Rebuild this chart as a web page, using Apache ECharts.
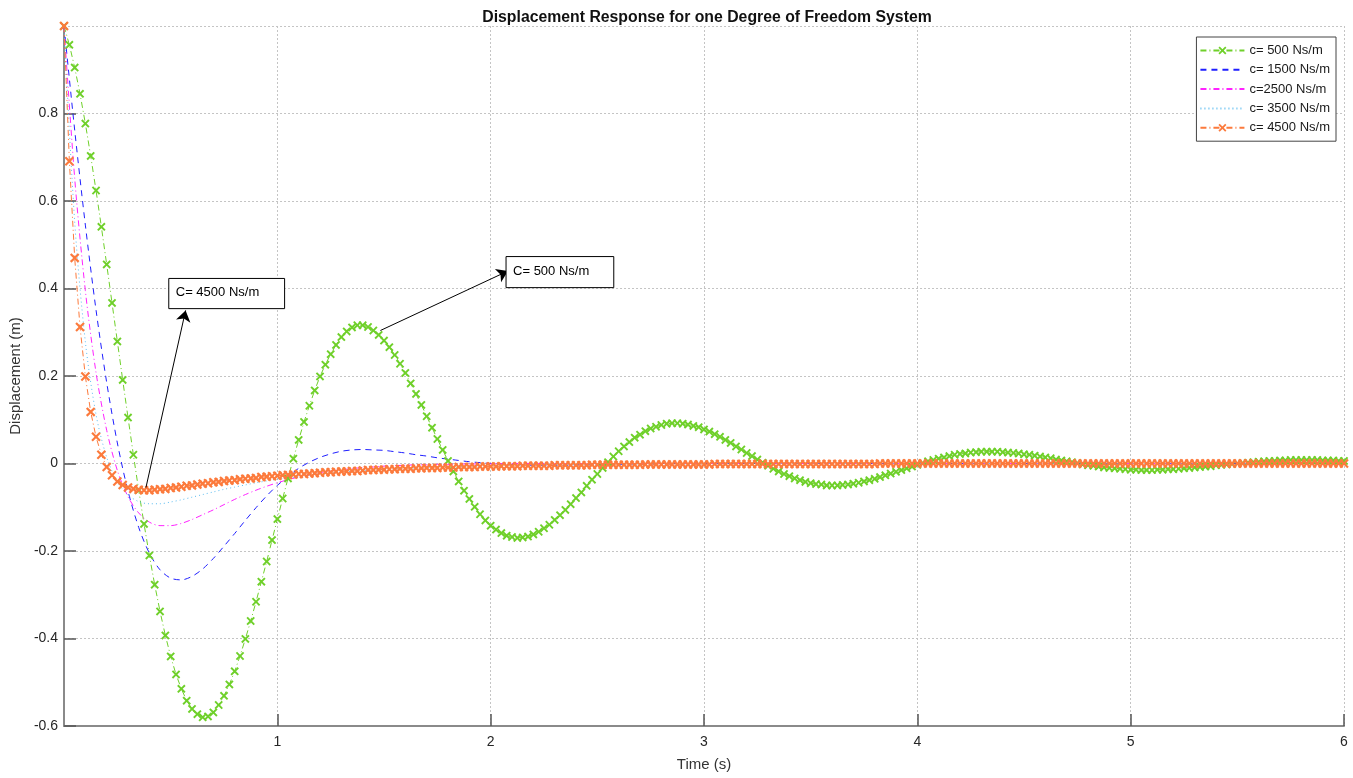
<!DOCTYPE html>
<html>
<head>
<meta charset="utf-8">
<title>Displacement Response</title>
<script src="https://cdn.jsdelivr.net/npm/echarts@6.0.0/dist/echarts.min.js"></script>
<style>
  html, body { margin: 0; padding: 0; background: #fff; }
  #chart { width: 1353px; height: 778px; }
</style>
</head>
<body>
<div id="chart"></div>
<script>
// sample step of each series (s)
const markedStep = 0.025;
const lineStep = 0.05;

// c = 500 Ns/m, every 0.025 s
const c500 = [
  1.000, 0.957, 0.905, 0.845, 0.777, 0.703, 0.624, 0.541, 0.455, 0.367,
  0.279, 0.191, 0.105, 0.020, -0.061, -0.138, -0.210, -0.277, -0.338, -0.393,
  -0.441, -0.482, -0.515, -0.542, -0.561, -0.573, -0.580, -0.578, -0.569, -0.552,
  -0.531, -0.505, -0.475, -0.440, -0.401, -0.360, -0.316, -0.270, -0.224, -0.175,
  -0.127, -0.080, -0.034, 0.011, 0.054, 0.095, 0.132, 0.167, 0.199, 0.226,
  0.250, 0.271, 0.289, 0.302, 0.311, 0.316, 0.316, 0.312, 0.304,
  0.294, 0.281, 0.266, 0.248, 0.228, 0.207, 0.183, 0.159, 0.134, 0.108,
  0.082, 0.056, 0.031, 0.006, -0.018, -0.041, -0.062, -0.081, -0.099, -0.116,
  -0.130, -0.142, -0.151, -0.159, -0.165, -0.168, -0.170, -0.169, -0.167, -0.162,
  -0.156, -0.148, -0.140, -0.129, -0.118, -0.106, -0.093, -0.079, -0.066, -0.051,
  -0.037, -0.024, -0.010, 0.003, 0.016, 0.028, 0.039, 0.049, 0.059, 0.066,
  0.074, 0.080, 0.084, 0.088, 0.091, 0.092, 0.092, 0.091, 0.089,
  0.086, 0.083, 0.078, 0.073, 0.067, 0.061, 0.054, 0.047, 0.039, 0.032,
  0.024, 0.017, 0.009, 0.002, -0.005, -0.012, -0.018, -0.024, -0.029, -0.034,
  -0.038, -0.042, -0.045, -0.047, -0.048, -0.050, -0.050, -0.050, -0.049, -0.048,
  -0.046, -0.044, -0.041, -0.038, -0.035, -0.031, -0.027, -0.023, -0.019, -0.015,
  -0.011, -0.007, -0.003, 0.001, 0.005, 0.008, 0.011, 0.014, 0.017, 0.020,
  0.022, 0.023, 0.025, 0.026, 0.027, 0.027, 0.027, 0.027, 0.026,
  0.025, 0.024, 0.023, 0.021, 0.020, 0.018, 0.016, 0.014, 0.012, 0.009,
  0.007, 0.005, 0.003, 0.001, -0.002, -0.004, -0.005, -0.007, -0.009, -0.010,
  -0.011, -0.012, -0.013, -0.014, -0.014, -0.015, -0.015, -0.015, -0.014, -0.014,
  -0.013, -0.013, -0.012, -0.011, -0.010, -0.009, -0.008, -0.007, -0.006, -0.004,
  -0.003, -0.002, -0.001, 0.000, 0.001, 0.002, 0.003, 0.004, 0.005, 0.006,
  0.006, 0.007, 0.007, 0.008, 0.008, 0.008, 0.008, 0.008, 0.008,
  0.007, 0.007, 0.007, 0.006, 0.006
];

// c = 4500 Ns/m, every 0.025 s
const c4500 = [
  1.000, 0.691, 0.470, 0.312, 0.199, 0.118, 0.061, 0.020, -0.008, -0.027,
  -0.041, -0.049, -0.055, -0.058, -0.060, -0.061, -0.061, -0.060, -0.059, -0.058,
  -0.056, -0.055, -0.053, -0.051, -0.050, -0.048, -0.046, -0.045, -0.043, -0.042,
  -0.040, -0.039, -0.038, -0.036, -0.035, -0.034, -0.033, -0.031, -0.030, -0.029,
  -0.028, -0.027, -0.026, -0.025, -0.024, -0.024, -0.023, -0.022, -0.021, -0.020,
  -0.020, -0.019, -0.018, -0.018, -0.017, -0.017, -0.016, -0.015, -0.015, -0.014,
  -0.014, -0.013, -0.013, -0.012, -0.012, -0.012, -0.011, -0.011, -0.010, -0.010,
  -0.010, -0.009, -0.009, -0.009, -0.008, -0.008, -0.008, -0.008, -0.007, -0.007,
  -0.007, -0.007, -0.006, -0.006, -0.006, -0.006, -0.005, -0.005, -0.005, -0.005,
  -0.005, -0.005, -0.004, -0.004, -0.004, -0.004, -0.004, -0.004, -0.004, -0.003,
  -0.003, -0.003, -0.003, -0.003, -0.003, -0.003, -0.003, -0.003, -0.003, -0.002,
  -0.002, -0.002, -0.002, -0.002, -0.002, -0.002, -0.002, -0.002, -0.002, -0.002,
  -0.002, -0.002, -0.001, -0.001, -0.001, -0.001, -0.001, -0.001, -0.001, -0.001,
  -0.001, -0.001, -0.001, -0.001, -0.001, -0.001, -0.001, -0.001, -0.001, -0.001,
  -0.001, -0.001, -0.001, -0.001, -0.001, -0.001, -0.001, -0.001, -0.001, -0.001,
  -0.001, -0.001, -0.001, 0, 0, 0, 0, 0, 0, 0,
  0, 0, 0, 0, 0, 0, 0, 0, 0, 0,
  0, 0, 0, 0, 0, 0, 0, 0, 0, 0,
  0, 0, 0, 0, 0, 0, 0, 0, 0, 0,
  0, 0, 0, 0, 0, 0, 0, 0, 0, 0,
  0, 0, 0, 0, 0, 0, 0, 0, 0, 0,
  0, 0, 0, 0, 0, 0, 0, 0, 0, 0,
  0, 0, 0, 0, 0, 0, 0, 0, 0, 0,
  0, 0, 0, 0, 0, 0, 0, 0, 0, 0,
  0
];

// c = 1500 / 2500 / 3500 Ns/m, every 0.05 s
const c1500 = [
  1.000, 0.762, 0.545, 0.351, 0.185, 0.047, -0.063, -0.146, -0.205, -0.243,
  -0.262, -0.266, -0.258, -0.241, -0.217, -0.189, -0.160, -0.130, -0.101, -0.074,
  -0.050, -0.030, -0.011, 0.003, 0.014, 0.022, 0.028, 0.031, 0.032, 0.031,
  0.030, 0.027, 0.024, 0.020, 0.017, 0.013, 0.010, 0.007, 0.004, 0.002,
  0.000, -0.001, -0.002, -0.003, -0.004, -0.004, -0.004, -0.004, -0.003, -0.003,
  -0.003, -0.002, -0.002, -0.001, -0.001, -0.001, 0, 0, 0, 0,
  0, 0, 0, 0, 0, 0, 0, 0, 0, 0,
  0, 0, 0, 0, 0, 0, 0, 0, 0, 0,
  0, 0, 0, 0, 0, 0, 0, 0, 0, 0,
  0, 0, 0, 0, 0, 0, 0, 0, 0, 0,
  0, 0, 0, 0, 0, 0, 0, 0, 0, 0,
  0, 0, 0, 0, 0, 0, 0, 0, 0, 0,
  0
];
const c2500 = [
  1.000, 0.652, 0.395, 0.208, 0.076, -0.016, -0.076, -0.113, -0.134, -0.142,
  -0.142, -0.137, -0.128, -0.117, -0.106, -0.094, -0.082, -0.071, -0.061, -0.052,
  -0.044, -0.037, -0.031, -0.026, -0.021, -0.017, -0.014, -0.012, -0.009, -0.008,
  -0.006, -0.005, -0.004, -0.003, -0.003, -0.002, -0.002, -0.001, -0.001, -0.001,
  -0.001, 0, 0, 0, 0, 0, 0, 0, 0, 0,
  0, 0, 0, 0, 0, 0, 0, 0, 0, 0,
  0, 0, 0, 0, 0, 0, 0, 0, 0, 0,
  0, 0, 0, 0, 0, 0, 0, 0, 0, 0,
  0, 0, 0, 0, 0, 0, 0, 0, 0, 0,
  0, 0, 0, 0, 0, 0, 0, 0, 0, 0,
  0, 0, 0, 0, 0, 0, 0, 0, 0, 0,
  0, 0, 0, 0, 0, 0, 0, 0, 0, 0,
  0
];
const c3500 = [
  1.000, 0.552, 0.278, 0.112, 0.014, -0.042, -0.072, -0.087, -0.092, -0.092,
  -0.088, -0.083, -0.077, -0.071, -0.065, -0.059, -0.054, -0.049, -0.044, -0.040,
  -0.036, -0.033, -0.030, -0.027, -0.024, -0.022, -0.020, -0.018, -0.016, -0.015,
  -0.013, -0.012, -0.011, -0.010, -0.009, -0.008, -0.007, -0.007, -0.006, -0.005,
  -0.005, -0.004, -0.004, -0.004, -0.003, -0.003, -0.003, -0.002, -0.002, -0.002,
  -0.002, -0.002, -0.001, -0.001, -0.001, -0.001, -0.001, -0.001, -0.001, -0.001,
  -0.001, -0.001, -0.001, 0, 0, 0, 0, 0, 0, 0,
  0, 0, 0, 0, 0, 0, 0, 0, 0, 0,
  0, 0, 0, 0, 0, 0, 0, 0, 0, 0,
  0, 0, 0, 0, 0, 0, 0, 0, 0, 0,
  0, 0, 0, 0, 0, 0, 0, 0, 0, 0,
  0, 0, 0, 0, 0, 0, 0, 0, 0, 0,
  0
];

const seriesNames = ['c= 500 Ns/m', 'c= 1500 Ns/m', 'c=2500 Ns/m', 'c= 3500 Ns/m', 'c= 4500 Ns/m'];

// annotation boxes [t, y] of top-left and bottom-right, and arrows [from, to]
const boxes = [
  { text: 'C= 4500 Ns/m', from: [0.491, 0.423], to: [1.034, 0.354] },
  { text: 'C= 500 Ns/m', from: [2.072, 0.473], to: [2.577, 0.402] }
];
const arrows = [
  [[0.384, -0.055], [0.570, 0.350]],
  [[1.483, 0.304], [2.081, 0.440]]
];

const FONT = "'Liberation Sans', Arial, sans-serif";
// "x" marker
const crossSymbol = 'path://M0,1.6L1.6,0L5,3.4L8.4,0L10,1.6L6.6,5L10,8.4L8.4,10L5,6.6L1.6,10L0,8.4L3.4,5Z';

function toPairs(step, values) {
  return values.map((v, i) => [+(i * step).toFixed(3), v]);
}

const chart = echarts.init(document.getElementById('chart'));

chart.setOption({
  animation: false,
  backgroundColor: '#fff',
  title: {
    text: 'Displacement Response for one Degree of Freedom System',
    left: 702,
    top: 5,
    textAlign: 'center',
    textStyle: { fontFamily: FONT, fontSize: 15.8, fontWeight: 'bold', color: '#111' }
  },
  legend: {
    // plain lines carry no marker in the legend
    data: seriesNames.map((n, i) => (i === 0 || i === 4) ? n : { name: n, itemStyle: { opacity: 0 } }),
    orient: 'vertical',
    right: 17,
    top: 37,
    itemWidth: 44,
    itemHeight: 10,
    itemGap: 6.3,
    padding: [7, 6, 7, 3],
    borderColor: '#444',
    borderWidth: 1,
    borderRadius: 0,
    backgroundColor: '#fff',
    textStyle: { fontFamily: FONT, fontSize: 13, color: '#1a1a1a' }
  },
  grid: { left: 61, right: 9, top: 26, bottom: 52, containLabel: false },
  xAxis: {
    type: 'value',
    min: 0,
    max: 6,
    interval: 1,
    name: 'Time (s)',
    nameLocation: 'middle',
    nameGap: 31,
    nameTextStyle: { fontFamily: FONT, fontSize: 15, color: '#333' },
    axisLine: { onZero: false, lineStyle: { color: '#8a8a8a', width: 2 } },
    axisTick: { inside: true, length: 12, lineStyle: { color: '#555', width: 1.5 } },
    axisLabel: { showMinLabel: false, margin: 9, fontFamily: FONT, fontSize: 14, color: '#262626' },
    splitLine: { show: true, lineStyle: { color: '#c4c4c4', width: 1, type: [2, 2] } }
  },
  yAxis: {
    type: 'value',
    min: -0.6,
    max: 1,
    interval: 0.2,
    name: 'Displacement (m)',
    nameLocation: 'middle',
    nameGap: 35,
    nameRotate: 90,
    nameTextStyle: { fontFamily: FONT, fontSize: 15, color: '#333' },
    axisLine: { show: true, onZero: false, lineStyle: { color: '#8a8a8a', width: 2 } },
    axisTick: { show: true, inside: true, length: 12, lineStyle: { color: '#555', width: 1.5 } },
    axisLabel: { showMaxLabel: false, margin: 6, fontFamily: FONT, fontSize: 14, color: '#262626' },
    splitLine: { show: true, lineStyle: { color: '#c4c4c4', width: 1, type: [2, 2] } }
  },
  series: [
    {
      name: seriesNames[0],
      type: 'line',
      data: toPairs(markedStep, c500),
      symbol: crossSymbol,
      symbolSize: 8.5,
      showSymbol: true,
      showAllSymbol: true,
      silent: true,
      itemStyle: { color: '#6fd02a' },
      lineStyle: { color: '#6fd02a', width: 1, type: [6, 3, 1, 3] }
    },
    {
      name: seriesNames[1],
      type: 'line',
      data: toPairs(lineStep, c1500),
      symbol: 'none',
      smooth: 0.3,
      silent: true,
      itemStyle: { color: '#1f1fff' },
      lineStyle: { color: '#1f1fff', width: 1, type: [6, 5] }
    },
    {
      name: seriesNames[2],
      type: 'line',
      data: toPairs(lineStep, c2500),
      symbol: 'none',
      smooth: 0.3,
      silent: true,
      itemStyle: { color: '#ff22ff' },
      lineStyle: { color: '#ff22ff', width: 1, type: [6, 3, 1, 3] }
    },
    {
      name: seriesNames[3],
      type: 'line',
      data: toPairs(lineStep, c3500),
      symbol: 'none',
      smooth: 0.3,
      silent: true,
      itemStyle: { color: '#5cbcf0' },
      lineStyle: { color: '#5cbcf0', width: 1, type: [1, 3] }
    },
    {
      name: seriesNames[4],
      type: 'line',
      data: toPairs(markedStep, c4500),
      symbol: crossSymbol,
      symbolSize: 9.5,
      showSymbol: true,
      showAllSymbol: true,
      silent: true,
      itemStyle: { color: '#fc7a3c' },
      lineStyle: { color: '#fc7a3c', width: 1, type: [6, 3, 1, 3] },
      markLine: {
        silent: true,
        symbol: ['none', 'arrow'],
        symbolSize: 11,
        label: { show: false },
        lineStyle: { color: '#000', width: 1, type: 'solid' },
        data: arrows.map(a => [{ coord: a[0] }, { coord: a[1] }])
      }
    }
  ]
});

// text boxes of the annotations, placed through the axes
function drawBoxes() {
  const elements = [];
  boxes.forEach(b => {
    const p0 = chart.convertToPixel({ gridIndex: 0 }, b.from);
    const p1 = chart.convertToPixel({ gridIndex: 0 }, b.to);
    elements.push({
      type: 'rect',
      shape: { x: p0[0], y: p0[1], width: p1[0] - p0[0], height: p1[1] - p0[1] },
      style: { fill: '#fff', stroke: '#000', lineWidth: 1 },
      z: 100
    });
    elements.push({
      type: 'text',
      x: p0[0] + 7,
      y: (p0[1] + p1[1]) / 2 - 1,
      style: { text: b.text, font: '13px ' + FONT, fill: '#000', verticalAlign: 'middle' },
      z: 101
    });
  });
  chart.setOption({ graphic: elements });
}
drawBoxes();
</script>
</body>
</html>
